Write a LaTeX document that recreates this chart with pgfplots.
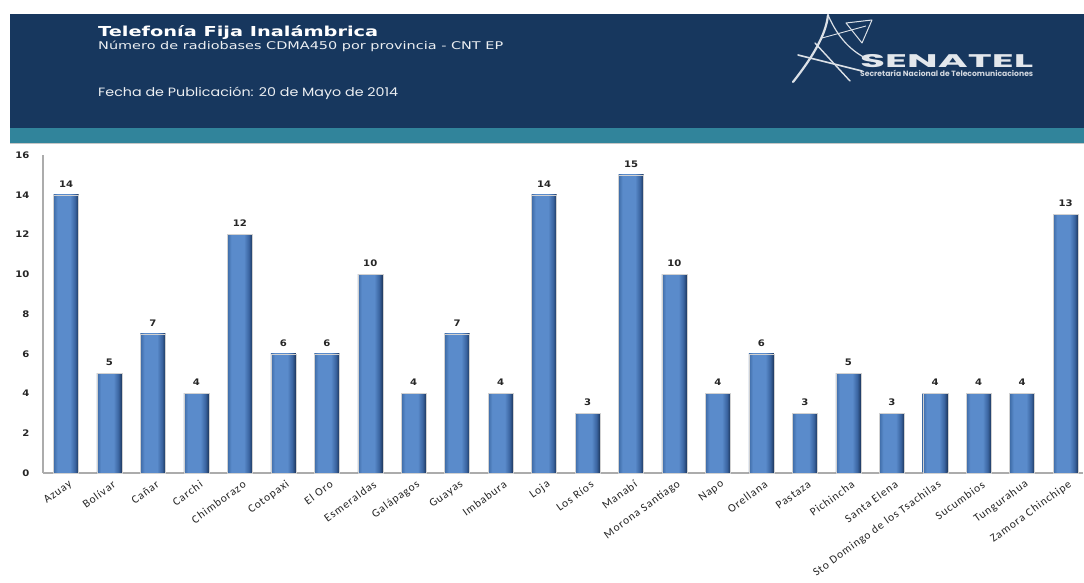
\documentclass[border=0pt]{standalone}
\usepackage{pgfplots}
\pgfplotsset{compat=1.18}
\usepackage{fontspec}
\usepackage{graphicx}
\setmainfont{DejaVu Sans}
\newfontfamily\hdrfont{DejaVu Sans}
\newfontfamily\fechafont{Poppins}
\newfontfamily\xfont[LetterSpace=8]{Carlito}
\newfontfamily\numfont[FakeStretch=1.12]{DejaVu Sans}
\definecolor{navy}{HTML}{17375E}
\definecolor{teal2}{HTML}{31849B}
\definecolor{bL}{HTML}{3E6BA6}
\definecolor{bM}{HTML}{5A8BCB}
\definecolor{bD}{HTML}{3A64A0}
\definecolor{bR}{HTML}{1C355A}
\pgfdeclarehorizontalshading{barshade}{100bp}{color(0bp)=(bL); color(25bp)=(bL); color(33bp)=(bM); color(58bp)=(bM); color(68bp)=(bD); color(75bp)=(bR); color(100bp)=(bR)}
\pgfplotsset{bstyle/.style={draw=black!18, line width=0.4pt, shading=barshade, bar shift=0pt}}
\begin{document}
\begin{tikzpicture}[x=1pt,y=1pt]
\useasboundingbox (0,0) rectangle (1084,583);
\fill[white] (0,0) rectangle (1084,583);
% header
\fill[navy] (10,455) rectangle (1084,569);
\fill[teal2] (10,440) rectangle (1084,455);
\draw[gray!45, line width=1.5pt] (10,439.5) -- (1084,439.5);
\node[anchor=base west, inner sep=0, text=white] at (98,546)
  {\resizebox{280pt}{11pt}{\hdrfont\bfseries Telefonía Fija Inalámbrica}};
\node[anchor=base west, inner sep=0, text=white!92!navy] at (98,533)
  {\resizebox{405pt}{8.5pt}{\hdrfont Número de radiobases CDMA450 por provincia - CNT EP}};
\node[anchor=base west, inner sep=0, text=white!92!navy] at (98,486)
  {\resizebox{300pt}{9.5pt}{\fechafont Fecha de Publicación: 20 de Mayo de 2014}};
% logo
\node[anchor=base west, inner sep=0, text=white!88!navy] at (860,515)
  {\resizebox{173pt}{13pt}{\fechafont\bfseries SENATEL}};
\node[anchor=base west, inner sep=0, text=white!80!navy] at (860,506)
  {\resizebox{173pt}{!}{\fechafont\bfseries Secretaría Nacional de Telecomunicaciones}};
\draw[white!85!navy, line width=2.2pt, line cap=round] (793,501) .. controls (812,525) and (826,548) .. (828,568);
\draw[white!85!navy, line width=1.2pt, line cap=round] (828,568) .. controls (838,545) and (852,530) .. (872,522);
\draw[white!85!navy, line width=1.6pt, line cap=round] (798,528) -- (862,512);
\draw[white!85!navy, line width=1.4pt, line cap=round] (815,540) -- (850,502);
\draw[white!85!navy, line width=1.0pt, line join=round] (846,560) -- (872,563) -- (862,540) -- cycle;
\draw[white!85!navy, line width=0.9pt] (822,545) -- (866,557);
\begin{axis}[
  at={(43pt,110pt)}, anchor=south west,
  scale only axis, width=1040pt, height=318pt,
  xmin=-0.53, xmax=23.4, ymin=0, ymax=16,
  axis x line*=bottom, axis y line*=left,
  axis line style={draw=gray!65, line width=1.2pt, -},
  major tick length=0pt,
  xtick={0,...,23},
  xticklabels={Azuay,Bolívar,Cañar,Carchi,Chimborazo,Cotopaxi,El Oro,Esmeraldas,Galápagos,Guayas,Imbabura,Loja,Los Ríos,Manabí,Morona Santiago,Napo,Orellana,Pastaza,Pichincha,Santa Elena,Sto Domingo de los Tsachilas,Sucumbios,Tungurahua,Zamora Chinchipe},
  xticklabel style={rotate=36, anchor=east, font=\xfont\fontsize{11.5}{13}\selectfont, text=black!85, inner sep=1pt, yshift=-11pt, xshift=-1pt},
  ytick={0,2,...,16},
  yticklabel style={font=\numfont\bfseries\fontsize{9}{10}\selectfont, text=black!85, xshift=-10pt},
  /pgf/number format/assume math mode=true,
  ybar, bar width=25pt,
  nodes near coords,
  every node near coord/.append style={font=\numfont\bfseries\fontsize{9}{10}\selectfont, text=black!85, yshift=4pt},
  clip=false,
]
\addplot[bstyle] coordinates {(0,14)};
\addplot[bstyle] coordinates {(1,5)};
\addplot[bstyle] coordinates {(2,7)};
\addplot[bstyle] coordinates {(3,4)};
\addplot[bstyle] coordinates {(4,12)};
\addplot[bstyle] coordinates {(5,6)};
\addplot[bstyle] coordinates {(6,6)};
\addplot[bstyle] coordinates {(7,10)};
\addplot[bstyle] coordinates {(8,4)};
\addplot[bstyle] coordinates {(9,7)};
\addplot[bstyle] coordinates {(10,4)};
\addplot[bstyle] coordinates {(11,14)};
\addplot[bstyle] coordinates {(12,3)};
\addplot[bstyle] coordinates {(13,15)};
\addplot[bstyle] coordinates {(14,10)};
\addplot[bstyle] coordinates {(15,4)};
\addplot[bstyle] coordinates {(16,6)};
\addplot[bstyle] coordinates {(17,3)};
\addplot[bstyle] coordinates {(18,5)};
\addplot[bstyle] coordinates {(19,3)};
\addplot[bstyle] coordinates {(20,4)};
\addplot[bstyle] coordinates {(21,4)};
\addplot[bstyle] coordinates {(22,4)};
\addplot[bstyle] coordinates {(23,13)};
\end{axis}
\end{tikzpicture}
\end{document}
